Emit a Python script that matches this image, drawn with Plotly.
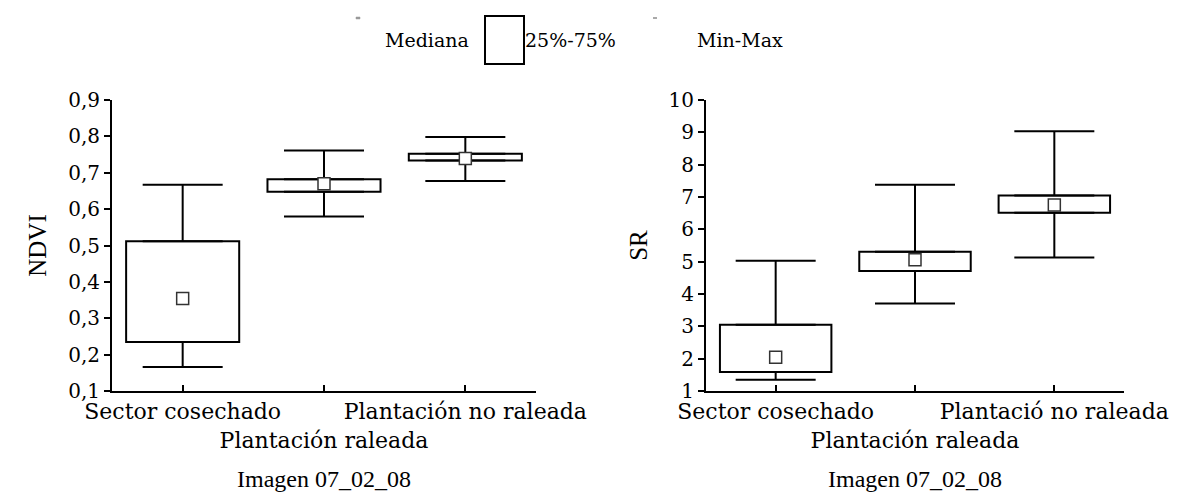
import plotly.graph_objects as go

# ---- data ----
categories = ["Sector cosechado", "Plantación raleada", "Plantación no raleada"]
tick_labels_left = ["Sector cosechado", "<br>Plantación raleada", "Plantación no raleada"]
tick_labels_right = ["Sector cosechado", "<br>Plantación raleada", "Plantació no raleada"]

ndvi_min = [0.166, 0.580, 0.677]
ndvi_q1 = [0.235, 0.648, 0.734]
ndvi_median = [0.354, 0.670, 0.739]
ndvi_q3 = [0.512, 0.682, 0.752]
ndvi_max = [0.667, 0.761, 0.798]

sr_min = [1.35, 3.71, 5.13]
sr_q1 = [1.59, 4.71, 6.51]
sr_median = [2.04, 5.06, 6.75]
sr_q3 = [3.05, 5.31, 7.05]
sr_max = [5.03, 7.38, 9.03]

ndvi_ticks = [0.1, 0.2, 0.3, 0.4, 0.5, 0.6, 0.7, 0.8, 0.9]
ndvi_ticktext = ["0,1", "0,2", "0,3", "0,4", "0,5", "0,6", "0,7", "0,8", "0,9"]
sr_ticks = [1, 2, 3, 4, 5, 6, 7, 8, 9, 10]

FONT = "Liberation Serif"
TFONT = "DejaVu Serif"
W, H = 1194, 504
xpos = [0, 1, 2]

fig = go.Figure()


def add_panel(xa, ya, mn, q1, med, q3, mx):
    fig.add_trace(go.Scatter(
        x=xpos, y=q3, mode="markers", marker=dict(size=0.1, color="rgba(0,0,0,0)"),
        error_y=dict(type="data", array=[b - a for a, b in zip(q3, mx)], arrayminus=[0, 0, 0],
                     color="black", thickness=2, width=40),
        xaxis=xa, yaxis=ya, showlegend=False, hoverinfo="skip"))
    fig.add_trace(go.Scatter(
        x=xpos, y=q1, mode="markers", marker=dict(size=0.1, color="rgba(0,0,0,0)"),
        error_y=dict(type="data", array=[0, 0, 0], arrayminus=[a - b for a, b in zip(q1, mn)],
                     color="black", thickness=2, width=40),
        xaxis=xa, yaxis=ya, showlegend=False, hoverinfo="skip"))
    fig.add_trace(go.Bar(
        x=xpos, y=[b - a for a, b in zip(q1, q3)], base=q1, width=0.8,
        marker=dict(color="white", line=dict(color="black", width=2)),
        xaxis=xa, yaxis=ya, showlegend=False))
    fig.add_trace(go.Scatter(
        x=xpos, y=med, mode="markers",
        marker=dict(symbol="square", size=12, color="white", line=dict(color="#333", width=1.5)),
        xaxis=xa, yaxis=ya, showlegend=False))


add_panel("x", "y", ndvi_min, ndvi_q1, ndvi_median, ndvi_q3, ndvi_max)
add_panel("x2", "y2", sr_min, sr_q1, sr_median, sr_q3, sr_max)

ydom = [(H - 383) / H, (H - 92) / H]
line_common = dict(showline=True, linecolor="black", linewidth=2, showgrid=False, zeroline=False,
                   tickcolor="black", tickwidth=2, automargin=False)
xfont = dict(family=TFONT, size=22, color="black")
yfont = dict(family=TFONT, size=20, color="black")

fig.update_layout(
    width=W, height=H,
    margin=dict(l=0, r=0, t=0, b=0),
    paper_bgcolor="white", plot_bgcolor="white",
    font=dict(family=FONT, color="black"),
    barmode="overlay",
    xaxis=dict(domain=[104 / W, 528 / W], range=[-0.5, 2.5], anchor="y",
               tickmode="array", tickvals=xpos, ticktext=tick_labels_left,
               ticks="inside", ticklen=6, tickangle=0, tickfont=xfont,
               title=dict(text="Imagen 07_02_08", font=dict(family=FONT, size=24), standoff=18),
               **line_common),
    yaxis=dict(domain=ydom, range=[0.1, 0.9], anchor="x",
               tickmode="array", tickvals=ndvi_ticks, ticktext=ndvi_ticktext,
               ticks="outside", ticklen=6, tickfont=yfont,
               title=dict(text="NDVI", font=dict(family=FONT, size=25), standoff=14),
               **line_common),
    xaxis2=dict(domain=[698 / W, 1116 / W], range=[-0.5, 2.5], anchor="y2",
                tickmode="array", tickvals=xpos, ticktext=tick_labels_right,
                ticks="inside", ticklen=6, tickangle=0, tickfont=xfont,
                title=dict(text="Imagen 07_02_08", font=dict(family=FONT, size=24), standoff=18),
                **line_common),
    yaxis2=dict(domain=ydom, range=[1, 10], anchor="x2",
                tickmode="array", tickvals=sr_ticks,
                ticks="outside", ticklen=6, tickfont=yfont,
                title=dict(text="SR", font=dict(family=FONT, size=25), standoff=14),
                **line_common),
)


def px_x(v):
    return v / W


def px_y(v):
    return 1 - v / H


fig.add_shape(type="rect", xref="paper", yref="paper",
              x0=px_x(477), x1=px_x(516), y0=px_y(56), y1=px_y(8),
              line=dict(color="black", width=2), fillcolor="white")
fig.add_shape(type="rect", xref="paper", yref="paper",
              x0=px_x(348), x1=px_x(352), y0=px_y(11), y1=px_y(9),
              line=dict(color="#999", width=0.5), fillcolor="#999")
fig.add_shape(type="line", xref="paper", yref="paper",
              x0=px_x(645), x1=px_x(649), y0=px_y(10), y1=px_y(10),
              line=dict(color="#555", width=1))

legend_items = [("Mediana", 419), ("25%-75%", 562), ("Min-Max", 732)]
for txt, cx in legend_items:
    fig.add_annotation(text=txt, xref="paper", yref="paper", x=px_x(cx), y=px_y(32),
                       xanchor="center", yanchor="middle", showarrow=False,
                       font=dict(family=TFONT, size=19, color="black"))

fig.write_html("out.html")
